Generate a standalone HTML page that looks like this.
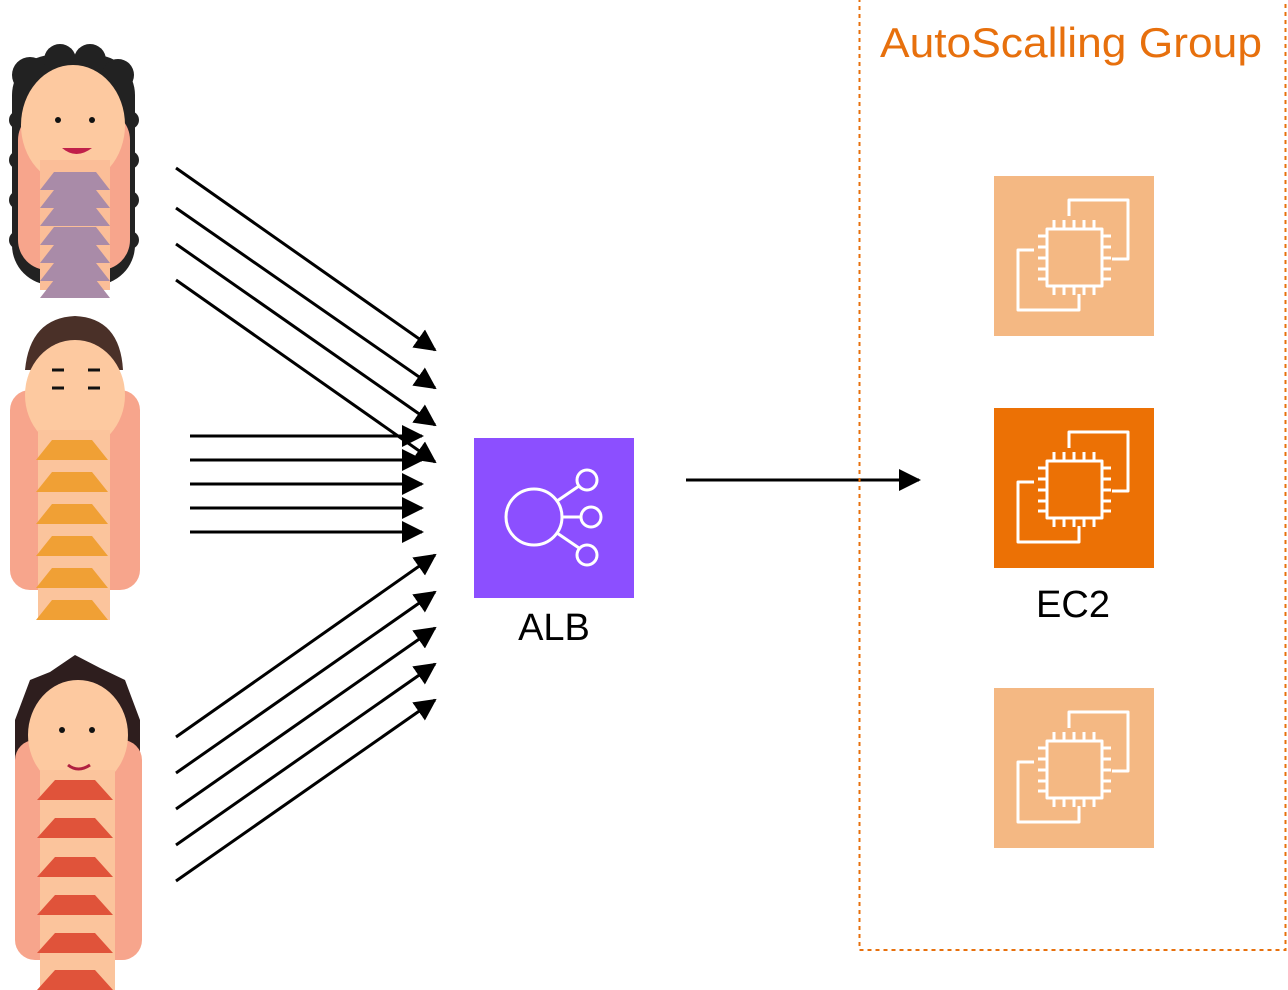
<!DOCTYPE html>
<html><head><meta charset="utf-8"><style>
html,body{margin:0;padding:0;background:#fff;}
svg{display:block;}
</style></head><body>
<svg width="1288" height="990" viewBox="0 0 1288 990" xmlns="http://www.w3.org/2000/svg">
<defs>
<marker id="ah2" markerWidth="22" markerHeight="22" refX="20" refY="11" orient="auto" markerUnits="userSpaceOnUse" viewBox="0 0 22 22">
<path d="M0,0 L22,11 L0,22 z" fill="#000"/>
</marker>
<g id="ec2">
<g fill="none" stroke="#fff" stroke-width="3" stroke-linejoin="round">
<path d="M75,40 V24 H134 V83 H118"/>
<path d="M40,74 H24 V134 H85 V118"/>
<rect x="53" y="53" width="55" height="57"/>
</g>
<g stroke="#fff" stroke-width="3">
<path d="M60,53v-9M70,53v-9M80,53v-9M90,53v-9M100,53v-9"/>
<path d="M60,110v9M70,110v9M80,110v9M90,110v9M100,110v9"/>
<path d="M53,60h-9M53,71h-9M53,82h-9M53,93h-9M53,103h-9"/>
<path d="M108,60h9M108,71h9M108,82h9M108,93h9M108,103h9"/>
</g>
</g>
</defs>

<!-- Person 1 -->
<g>
<rect x="12" y="55" width="123" height="230" rx="40" fill="#222"/>
<g fill="#222">
<circle cx="30" cy="75" r="18"/><circle cx="60" cy="60" r="16"/><circle cx="90" cy="60" r="16"/><circle cx="118" cy="75" r="16"/>
<circle cx="18" cy="120" r="9"/><circle cx="18" cy="160" r="9"/><circle cx="18" cy="200" r="9"/><circle cx="18" cy="240" r="9"/>
<circle cx="130" cy="120" r="9"/><circle cx="130" cy="160" r="9"/><circle cx="130" cy="200" r="9"/><circle cx="130" cy="240" r="9"/>
</g>
<rect x="18" y="110" width="112" height="160" rx="30" fill="#F7A58C"/>
<ellipse cx="73" cy="125" rx="52" ry="60" fill="#FDC9A0"/>
<rect x="40" y="160" width="70" height="130" fill="#FBBE98"/>
<g fill="#A98BA8">
<path d="M54,172h42l14,18h-70z"/><path d="M54,190h42l14,18h-70z"/><path d="M54,208h42l14,18h-70z"/>
<path d="M54,227h42l14,18h-70z"/><path d="M54,245h42l14,18h-70z"/><path d="M54,263h42l14,18h-70z"/><path d="M54,280h42l14,18h-70z"/>
</g>
<circle cx="58" cy="120" r="3" fill="#111"/><circle cx="92" cy="120" r="3" fill="#111"/>
<path d="M62,148 q14,12 30,0z" fill="#C0204A"/>
</g>

<!-- Person 2 -->
<g>
<path d="M25,370 Q30,318 75,316 Q120,318 123,370z" fill="#4A3028"/>
<rect x="10" y="390" width="130" height="200" rx="20" fill="#F7A58C"/>
<ellipse cx="75" cy="395" rx="50" ry="55" fill="#FDC9A0"/>
<rect x="38" y="430" width="72" height="190" fill="#FBC49C"/>
<g fill="#F0A035">
<path d="M52,440h40l16,20h-72z"/><path d="M52,472h40l16,20h-72z"/><path d="M52,504h40l16,20h-72z"/>
<path d="M52,536h40l16,20h-72z"/><path d="M52,568h40l16,20h-72z"/><path d="M52,600h40l16,20h-72z"/>
</g>
<path d="M52,370h12M88,370h12M52,388h12M88,388h12" stroke="#111" stroke-width="3"/>
</g>

<!-- Person 3 -->
<g>
<path d="M15,720 L30,680 L50,672 L75,655 L100,668 L125,680 L140,720 L140,900 L15,900z" fill="#2E1E1E"/>
<rect x="15" y="740" width="127" height="220" rx="20" fill="#F7A58C"/>
<ellipse cx="78" cy="735" rx="50" ry="55" fill="#FDC9A0"/>
<rect x="40" y="770" width="75" height="220" fill="#FBC49C"/>
<g fill="#E0533A">
<path d="M55,780h40l18,20h-76z"/><path d="M55,818h40l18,20h-76z"/><path d="M55,857h40l18,20h-76z"/>
<path d="M55,895h40l18,20h-76z"/><path d="M55,933h40l18,20h-76z"/><path d="M55,970h40l18,20h-76z"/>
</g>
<circle cx="62" cy="730" r="3" fill="#111"/><circle cx="92" cy="730" r="3" fill="#111"/>
<path d="M68,765 q10,8 22,0" stroke="#B02040" stroke-width="3" fill="none"/>
</g>

<!-- Arrows -->
<g stroke="#000" stroke-width="3" fill="none">
<line x1="176" y1="168" x2="435" y2="350" marker-end="url(#ah2)"/>
<line x1="176" y1="208" x2="435" y2="388" marker-end="url(#ah2)"/>
<line x1="176" y1="244" x2="435" y2="425" marker-end="url(#ah2)"/>
<line x1="176" y1="280" x2="435" y2="462" marker-end="url(#ah2)"/>
<line x1="190" y1="436" x2="422" y2="436" marker-end="url(#ah2)"/>
<line x1="190" y1="460" x2="422" y2="460" marker-end="url(#ah2)"/>
<line x1="190" y1="484" x2="422" y2="484" marker-end="url(#ah2)"/>
<line x1="190" y1="508" x2="422" y2="508" marker-end="url(#ah2)"/>
<line x1="190" y1="532" x2="422" y2="532" marker-end="url(#ah2)"/>
<line x1="176" y1="737" x2="435" y2="555" marker-end="url(#ah2)"/>
<line x1="176" y1="773" x2="435" y2="592" marker-end="url(#ah2)"/>
<line x1="176" y1="809" x2="435" y2="628" marker-end="url(#ah2)"/>
<line x1="176" y1="845" x2="435" y2="664" marker-end="url(#ah2)"/>
<line x1="176" y1="881" x2="435" y2="700" marker-end="url(#ah2)"/>
<line x1="686" y1="480" x2="919" y2="480" marker-end="url(#ah2)"/>
</g>

<!-- ALB -->
<rect x="474" y="438" width="160" height="160" fill="#8C4FFF"/>
<g fill="none" stroke="#fff" stroke-width="3">
<circle cx="534" cy="517" r="28"/>
<circle cx="587" cy="480" r="10"/>
<circle cx="591" cy="517" r="10"/>
<circle cx="587" cy="555" r="10"/>
<line x1="557" y1="501" x2="579" y2="486"/>
<line x1="562" y1="517" x2="581" y2="517"/>
<line x1="557" y1="533" x2="579" y2="548"/>
</g>
<text x="554" y="640" font-family="Liberation Sans, sans-serif" font-size="38" text-anchor="middle" fill="#000">ALB</text>

<!-- ASG -->
<rect x="859.5" y="-2" width="426" height="952" fill="none" stroke="#E7700D" stroke-width="2" stroke-dasharray="4 4"/>
<text x="880" y="57" font-family="Liberation Sans, sans-serif" font-size="42" textLength="382" lengthAdjust="spacingAndGlyphs" fill="#E7700D">AutoScalling Group</text>

<rect x="994" y="176" width="160" height="160" fill="#F4B883"/>
<use href="#ec2" x="994" y="176"/>
<rect x="994" y="408" width="160" height="160" fill="#EC7105"/>
<use href="#ec2" x="994" y="408"/>
<rect x="994" y="688" width="160" height="160" fill="#F4B883"/>
<use href="#ec2" x="994" y="688"/>
<text x="1073" y="617" font-family="Liberation Sans, sans-serif" font-size="38" text-anchor="middle" fill="#000">EC2</text>
</svg>
</body></html>
